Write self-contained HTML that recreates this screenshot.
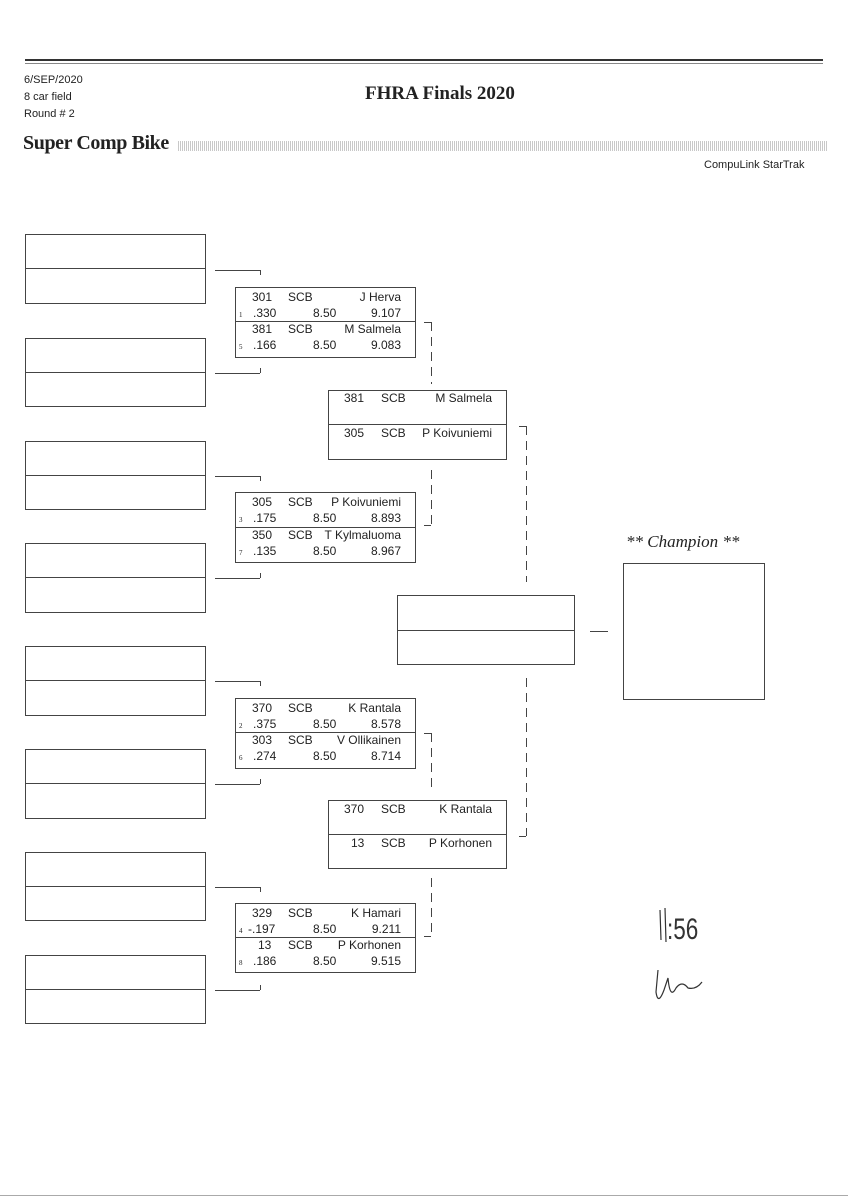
<!DOCTYPE html>
<html><head><meta charset="utf-8"><style>
body{margin:0;width:848px;height:1200px;background:#fff;position:relative;overflow:hidden;font-family:"Liberation Sans",sans-serif;color:#222}
.a{position:absolute}
.b{position:absolute;border:1px solid #444;box-sizing:border-box}
.h{position:absolute;border-top:1px solid #444;height:0}
.v{position:absolute;border-left:1px solid #444;width:0}
.d{position:absolute;width:1px;background:repeating-linear-gradient(180deg,#444 0 9px,transparent 9px 15px)}
.t{position:absolute;font-size:12px;line-height:13px;white-space:nowrap}
.tr{position:absolute;font-size:12px;line-height:13px;white-space:nowrap;text-align:right}
.s{position:absolute;font-size:7px;font-family:"Liberation Serif",serif}
</style></head><body>
<div class="h" style="left:25px;top:59px;width:798px;border-top:2px solid #333"></div>
<div class="h" style="left:25px;top:63px;width:798px;border-top:1px solid #888"></div>
<div class="a" style="left:24px;top:72px;font-size:11px;line-height:17px">6/SEP/2020<br>8 car field<br>Round # 2</div>
<div class="a" style="left:365px;top:83px;font-family:'Liberation Serif',serif;font-weight:bold;font-size:19px">FHRA Finals 2020</div>
<div class="a" style="left:23px;top:132px;font-family:'Liberation Serif',serif;font-weight:bold;font-size:20px;letter-spacing:-0.4px">Super Comp Bike</div>
<div class="a" style="left:178px;top:141px;width:650px;height:10px;background:repeating-linear-gradient(90deg,#bbb 0 1px,#fff 1px 2px),#ddd;opacity:.8"></div>
<div class="a" style="left:704px;top:159px;font-size:11px">CompuLink StarTrak</div>

<div class="b" style="left:25px;top:234px;width:181px;height:70px"></div><div class="h" style="left:25px;top:268px;width:181px"></div>
<div class="b" style="left:25px;top:338px;width:181px;height:69px"></div><div class="h" style="left:25px;top:372px;width:181px"></div>
<div class="b" style="left:25px;top:441px;width:181px;height:69px"></div><div class="h" style="left:25px;top:475px;width:181px"></div>
<div class="b" style="left:25px;top:543px;width:181px;height:70px"></div><div class="h" style="left:25px;top:577px;width:181px"></div>
<div class="b" style="left:25px;top:646px;width:181px;height:70px"></div><div class="h" style="left:25px;top:680px;width:181px"></div>
<div class="b" style="left:25px;top:749px;width:181px;height:70px"></div><div class="h" style="left:25px;top:783px;width:181px"></div>
<div class="b" style="left:25px;top:852px;width:181px;height:69px"></div><div class="h" style="left:25px;top:886px;width:181px"></div>
<div class="b" style="left:25px;top:955px;width:181px;height:69px"></div><div class="h" style="left:25px;top:989px;width:181px"></div>

<div class="h" style="left:215px;top:270px;width:45px"></div><div class="v" style="left:260px;top:270px;height:5px"></div>
<div class="h" style="left:215px;top:373px;width:45px"></div><div class="v" style="left:260px;top:368px;height:5px"></div>
<div class="h" style="left:215px;top:476px;width:45px"></div><div class="v" style="left:260px;top:476px;height:5px"></div>
<div class="h" style="left:215px;top:578px;width:45px"></div><div class="v" style="left:260px;top:573px;height:5px"></div>
<div class="h" style="left:215px;top:681px;width:45px"></div><div class="v" style="left:260px;top:681px;height:5px"></div>
<div class="h" style="left:215px;top:784px;width:45px"></div><div class="v" style="left:260px;top:779px;height:5px"></div>
<div class="h" style="left:215px;top:887px;width:45px"></div><div class="v" style="left:260px;top:887px;height:5px"></div>
<div class="h" style="left:215px;top:990px;width:45px"></div><div class="v" style="left:260px;top:985px;height:5px"></div>

<div class="b" style="left:235px;top:287px;width:181px;height:71px">
<div class="h" style="left:0;top:33px;width:179px"></div>
<span class="t" style="left:16px;top:3px">301</span><span class="t" style="left:52px;top:3px">SCB</span><span class="tr" style="right:14px;top:3px">J Herva</span>
<span class="s" style="left:3px;top:23px">1</span><span class="t" style="left:17px;top:19px">.330</span><span class="t" style="left:77px;top:19px">8.50</span><span class="tr" style="right:14px;top:19px">9.107</span>
<span class="t" style="left:16px;top:35px">381</span><span class="t" style="left:52px;top:35px">SCB</span><span class="tr" style="right:14px;top:35px">M Salmela</span>
<span class="s" style="left:3px;top:55px">5</span><span class="t" style="left:17px;top:51px">.166</span><span class="t" style="left:77px;top:51px">8.50</span><span class="tr" style="right:14px;top:51px">9.083</span>
</div>
<div class="b" style="left:235px;top:492px;width:181px;height:71px">
<div class="h" style="left:0;top:34px;width:179px"></div>
<span class="t" style="left:16px;top:3px">305</span><span class="t" style="left:52px;top:3px">SCB</span><span class="tr" style="right:14px;top:3px">P Koivuniemi</span>
<span class="s" style="left:3px;top:23px">3</span><span class="t" style="left:17px;top:19px">.175</span><span class="t" style="left:77px;top:19px">8.50</span><span class="tr" style="right:14px;top:19px">8.893</span>
<span class="t" style="left:16px;top:36px">350</span><span class="t" style="left:52px;top:36px">SCB</span><span class="tr" style="right:14px;top:36px">T Kylmaluoma</span>
<span class="s" style="left:3px;top:56px">7</span><span class="t" style="left:17px;top:52px">.135</span><span class="t" style="left:77px;top:52px">8.50</span><span class="tr" style="right:14px;top:52px">8.967</span>
</div>
<div class="b" style="left:235px;top:698px;width:181px;height:71px">
<div class="h" style="left:0;top:33px;width:179px"></div>
<span class="t" style="left:16px;top:3px">370</span><span class="t" style="left:52px;top:3px">SCB</span><span class="tr" style="right:14px;top:3px">K Rantala</span>
<span class="s" style="left:3px;top:23px">2</span><span class="t" style="left:17px;top:19px">.375</span><span class="t" style="left:77px;top:19px">8.50</span><span class="tr" style="right:14px;top:19px">8.578</span>
<span class="t" style="left:16px;top:35px">303</span><span class="t" style="left:52px;top:35px">SCB</span><span class="tr" style="right:14px;top:35px">V Ollikainen</span>
<span class="s" style="left:3px;top:55px">6</span><span class="t" style="left:17px;top:51px">.274</span><span class="t" style="left:77px;top:51px">8.50</span><span class="tr" style="right:14px;top:51px">8.714</span>
</div>
<div class="b" style="left:235px;top:903px;width:181px;height:70px">
<div class="h" style="left:0;top:33px;width:179px"></div>
<span class="t" style="left:16px;top:3px">329</span><span class="t" style="left:52px;top:3px">SCB</span><span class="tr" style="right:14px;top:3px">K Hamari</span>
<span class="s" style="left:3px;top:23px">4</span><span class="t" style="left:12px;top:19px">-.197</span><span class="t" style="left:77px;top:19px">8.50</span><span class="tr" style="right:14px;top:19px">9.211</span>
<span class="t" style="left:22px;top:35px">13</span><span class="t" style="left:52px;top:35px">SCB</span><span class="tr" style="right:14px;top:35px">P Korhonen</span>
<span class="s" style="left:3px;top:55px">8</span><span class="t" style="left:17px;top:51px">.186</span><span class="t" style="left:77px;top:51px">8.50</span><span class="tr" style="right:14px;top:51px">9.515</span>
</div>

<div class="h" style="left:424px;top:322px;width:7px"></div><div class="d" style="left:431px;top:322px;height:62px"></div>
<div class="d" style="left:431px;top:470px;height:55px"></div><div class="h" style="left:424px;top:525px;width:7px"></div>
<div class="h" style="left:424px;top:733px;width:7px"></div><div class="d" style="left:431px;top:733px;height:60px"></div>
<div class="d" style="left:431px;top:878px;height:58px"></div><div class="h" style="left:424px;top:936px;width:7px"></div>

<div class="b" style="left:328px;top:390px;width:179px;height:70px">
<div class="h" style="left:0;top:33px;width:177px"></div>
<span class="t" style="left:15px;top:1px">381</span><span class="t" style="left:52px;top:1px">SCB</span><span class="tr" style="right:14px;top:1px">M Salmela</span>
<span class="t" style="left:15px;top:36px">305</span><span class="t" style="left:52px;top:36px">SCB</span><span class="tr" style="right:14px;top:36px">P Koivuniemi</span>
</div>
<div class="b" style="left:328px;top:800px;width:179px;height:69px">
<div class="h" style="left:0;top:33px;width:177px"></div>
<span class="t" style="left:15px;top:2px">370</span><span class="t" style="left:52px;top:2px">SCB</span><span class="tr" style="right:14px;top:2px">K Rantala</span>
<span class="t" style="left:22px;top:36px">13</span><span class="t" style="left:52px;top:36px">SCB</span><span class="tr" style="right:14px;top:36px">P Korhonen</span>
</div>
<div class="h" style="left:519px;top:426px;width:7px"></div><div class="d" style="left:526px;top:426px;height:156px"></div>
<div class="d" style="left:526px;top:678px;height:158px"></div><div class="h" style="left:519px;top:836px;width:7px"></div>

<div class="b" style="left:397px;top:595px;width:178px;height:70px"></div><div class="h" style="left:397px;top:630px;width:178px"></div>
<div class="h" style="left:590px;top:631px;width:18px"></div>
<div class="a" style="left:626px;top:532px;font-family:'Liberation Serif',serif;font-style:italic;font-size:17px">** Champion **</div>
<div class="b" style="left:623px;top:563px;width:142px;height:137px"></div>

<svg class="a" style="left:640px;top:900px" width="100" height="120" viewBox="0 0 100 120" fill="none" stroke="#333" stroke-width="1.2">
<path d="M20 10 L21 40 M25 8 L26 42"/>
<text x="36" y="39" font-family="Liberation Sans" font-size="30" fill="#333" stroke="none" transform="scale(0.75,1)">:56</text>
<path d="M18 70 L16 92 Q18 106 24 90 L28 78 Q30 100 36 88 Q42 80 48 88 Q56 90 62 82"/>
</svg>
<div class="h" style="left:0;top:1195px;width:848px;border-top:1px solid #aaa"></div>
</body></html>
